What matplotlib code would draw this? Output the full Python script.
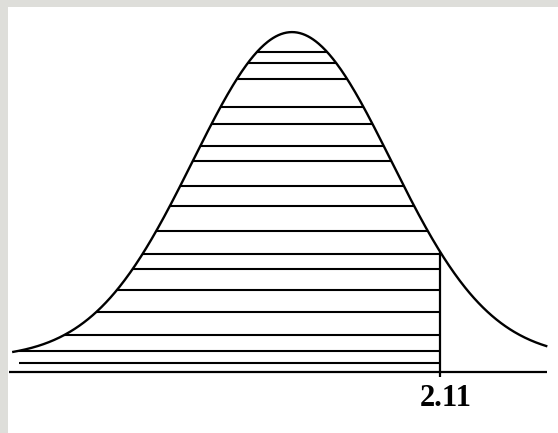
import numpy as np
import matplotlib.pyplot as plt
from matplotlib.patches import Rectangle

# bell curve with the area left of the cutoff shaded by horizontal lines
cutoff = 2.11
cutoff_label = "2.11"
sd = 1.41
curve_range = (-3.99, 3.64)
axis_level = -0.0122
hatch_levels = [0.2656, 0.2561, 0.2422, 0.2179, 0.2031, 0.1840, 0.1710, 0.1493,
                0.1319, 0.1102, 0.0903, 0.0773, 0.0590, 0.0399, 0.0200, 0.0061,
                -0.0043]


def pdf(x):
    return np.exp(-x ** 2 / (2 * sd ** 2)) / (sd * np.sqrt(2 * np.pi))


peak = pdf(0.0)

fig = plt.figure(figsize=(5.58, 4.33), dpi=100)
fig.patch.set_facecolor("white")
ax = fig.add_axes([0, 0, 1, 1])
ax.set_xlim(-4.163, 3.792)
ax.set_ylim(-0.0651, 0.3108)
ax.set_axis_off()

# grey frame on the top and left edges
fig.patches.append(Rectangle((0, 0), 8 / 558, 1, transform=fig.transFigure,
                             facecolor="#dededa", edgecolor="none", zorder=0))
fig.patches.append(Rectangle((0, 1 - 7 / 433), 1, 7 / 433, transform=fig.transFigure,
                             facecolor="#dededa", edgecolor="none", zorder=0))

xs = np.linspace(curve_range[0], curve_range[1], 600)
ax.plot(xs, pdf(xs), color="black", lw=1.7, solid_capstyle="butt")

# horizontal hatching under the curve
for h in hatch_levels:
    if h > 0 and h < peak:
        half = sd * np.sqrt(2 * np.log(peak / h))
    else:
        half = 10.0
    left = max(-half, curve_range[0] + 0.1)
    right = min(half, cutoff)
    ax.hlines(h, left, right, color="black", lw=1.5)

# baseline and cutoff marker
ax.hlines(axis_level, curve_range[0] - 0.04, curve_range[1], color="black", lw=1.6)
ax.vlines(cutoff, axis_level - 0.004, pdf(cutoff), color="black", lw=1.6)

ax.annotate(cutoff_label, xy=(cutoff, axis_level), xytext=(4, -19),
            textcoords="offset points", ha="center", va="center",
            fontsize=22, fontweight="bold", family="Liberation Serif")

fig.savefig("out.png", dpi=100)
